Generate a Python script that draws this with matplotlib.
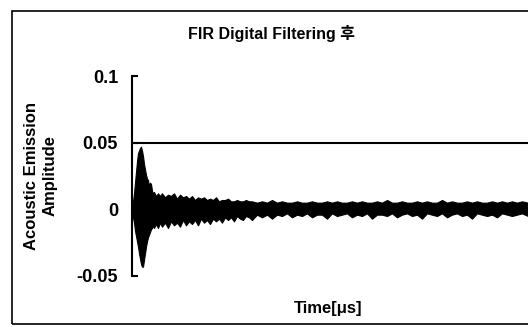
import matplotlib.pyplot as plt
from matplotlib.patches import Rectangle

plt.rcParams['font.family'] = ['Liberation Sans', 'Noto Sans CJK KR']
plt.rcParams['font.weight'] = 'bold'

# envelope of the filtered AE waveform (time in us)
time_us = [0, 1, 2, 3, 4, 5, 6, 7, 8, 9, 10, 11, 12, 13, 14, 15, 16, 17, 18,
           19, 20, 21, 22, 24, 26, 28,
           30, 33, 36, 39, 42, 45, 48, 51, 54, 57, 60, 63, 66, 69, 72, 75, 78,
           81, 84, 87, 90, 93, 96, 99, 102, 105, 108, 111, 114, 117, 120,
           125, 130, 135, 140, 145, 150, 155, 160, 165, 170, 175, 180, 185,
           190, 195, 200, 205, 210, 215, 220, 225, 230, 235, 240, 245, 250,
           255, 260, 265, 270, 275, 280, 285, 290, 295, 300, 305, 310, 315,
           320, 325, 330, 335, 340, 345, 350, 355, 360, 365, 370, 375, 380,
           385, 390, 396]
upper = [0.002, 0.006, 0.012, 0.020, 0.028, 0.036, 0.042, 0.044, 0.046, 0.047,
         0.044, 0.040, 0.034, 0.030, 0.026, 0.023, 0.022, 0.017, 0.020, 0.019,
         0.014, 0.012, 0.013, 0.010, 0.012, 0.010,
         0.012, 0.009, 0.011, 0.010, 0.012, 0.008, 0.011, 0.009, 0.010, 0.008,
         0.010, 0.007, 0.009, 0.008, 0.009, 0.007, 0.008, 0.007, 0.009, 0.006,
         0.007, 0.007, 0.008, 0.006, 0.006, 0.007, 0.006, 0.006, 0.007, 0.006,
         0.006,
         0.005, 0.006, 0.005, 0.007, 0.005, 0.006, 0.005, 0.005, 0.006, 0.005,
         0.005, 0.006, 0.005, 0.005, 0.006, 0.005, 0.006, 0.005, 0.005, 0.006,
         0.005, 0.006, 0.005, 0.005, 0.006, 0.005, 0.007, 0.005, 0.005, 0.006,
         0.005, 0.005, 0.006, 0.005, 0.006, 0.005, 0.005, 0.007, 0.005, 0.006,
         0.005, 0.005, 0.006, 0.005, 0.006, 0.005, 0.005, 0.006, 0.005, 0.006,
         0.005, 0.006, 0.005, 0.006, 0.005]
lower = [-0.002, -0.006, -0.010, -0.016, -0.020, -0.024, -0.028, -0.033,
         -0.037, -0.041, -0.043, -0.043, -0.038, -0.033, -0.028, -0.024,
         -0.021, -0.019, -0.017, -0.015, -0.014, -0.012, -0.014, -0.011,
         -0.014, -0.010,
         -0.013, -0.010, -0.014, -0.009, -0.012, -0.010, -0.013, -0.008,
         -0.012, -0.009, -0.011, -0.008, -0.012, -0.007, -0.010, -0.008,
         -0.011, -0.007, -0.009, -0.007, -0.010, -0.006, -0.008, -0.006,
         -0.009, -0.005, -0.007, -0.008, -0.005, -0.006, -0.008,
         -0.004, -0.006, -0.004, -0.007, -0.004, -0.005, -0.003, -0.006,
         -0.004, -0.005, -0.003, -0.006, -0.004, -0.004, -0.007, -0.003,
         -0.005, -0.004, -0.003, -0.006, -0.004, -0.005, -0.003, -0.007,
         -0.004, -0.004, -0.005, -0.003, -0.006, -0.004, -0.003, -0.005,
         -0.004, -0.007, -0.003, -0.004, -0.005, -0.003, -0.006, -0.004,
         -0.003, -0.005, -0.004, -0.007, -0.003, -0.004, -0.005, -0.004,
         -0.006, -0.003, -0.004, -0.005, -0.004, -0.003, -0.005]

threshold = 0.05
yticks = [-0.05, 0, 0.05, 0.1]
ytick_labels = ['-0.05', '0', '0.05', '0.1']

fig = plt.figure(figsize=(5.28, 3.27), dpi=100)

# outer chart frame (right side is cut off in the original)
fig.patches.append(Rectangle((12 / 528, 3 / 327), 1.1, 313 / 327,
                             transform=fig.transFigure, fill=False,
                             edgecolor='black', linewidth=1.2))

ax = fig.add_axes([132 / 528, 51 / 327, 396 / 528, 200 / 327])
ax.fill_between(time_us, lower, upper, color='black', linewidth=0.8,
                edgecolor='black')
ax.axhline(threshold, color='black', linewidth=1.5)

ax.set_xlim(0, 396)
ax.set_ylim(-0.05, 0.1)
ax.set_yticks(yticks)
ax.set_yticklabels(ytick_labels, fontsize=13, fontweight='bold')
ax.set_xticks([])
for s in ['top', 'right', 'bottom']:
    ax.spines[s].set_visible(False)
ax.spines['left'].set_linewidth(1.5)
ax.tick_params(axis='y', direction='in', length=4, width=1.5, pad=10)

fig.text(271 / 528, 1 - 33 / 327, 'FIR Digital Filtering 후',
         ha='center', va='center', fontsize=11.5, fontweight='bold')
fig.text(41 / 528, 1 - 176 / 327, 'Acoustic Emission\nAmplitude',
         rotation=90, ha='center', va='center', linespacing=1.3,
         fontsize=12, fontweight='bold')
fig.text(328 / 528, 1 - 308 / 327, 'Time[μs]', ha='center', va='center',
         fontsize=12, fontweight='bold')

fig.savefig('out.png', dpi=100)
